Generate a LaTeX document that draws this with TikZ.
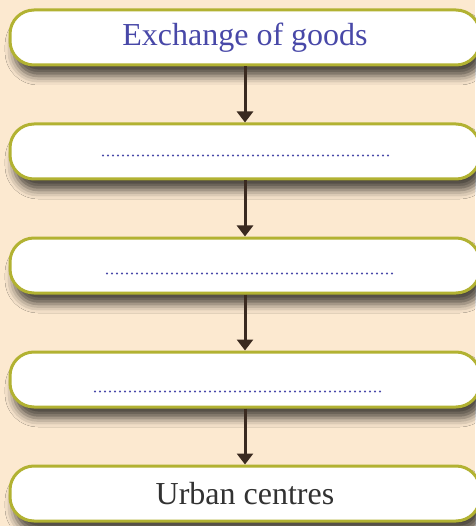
\documentclass[tikz,border=0pt]{standalone}
\usepackage{fontspec}
\setmainfont{Liberation Serif}
\usetikzlibrary{arrows.meta,shadows.blur}
\definecolor{peche}{RGB}{252,233,208}
\definecolor{olive}{RGB}{178,178,50}
\definecolor{bleu}{RGB}{72,72,168}
\definecolor{brun}{RGB}{58,42,32}
\definecolor{gris}{RGB}{50,50,50}
\begin{document}
\begin{tikzpicture}[
      node distance=114pt,
      etape/.style={
        draw=olive,
        line width=3pt,
        fill=white,
        rounded corners=24pt,
        minimum width=470pt,
        minimum height=55pt,
        font=\fontsize{32}{36}\selectfont,
        blur shadow={shadow xshift=4pt, shadow yshift=-11pt,
          shadow blur radius=9pt, shadow opacity=70}
      },
      fleche/.style={
        -{Triangle[width=16pt,length=11pt]},
        line width=3pt,
        draw=brun
      },
      pointille/.style={
        draw=bleu,
        line width=2.4pt,
        line cap=round,
        dash pattern=on 0pt off 5pt
      }
    ]
    \fill[peche] (0,0) rectangle (475pt,-526pt);
    \useasboundingbox (0,0) rectangle (475pt,-526pt);
    \node[etape, text=bleu] (b1) at (245pt,-37.5pt) {Exchange of goods} ;
    \node[etape, below of=b1] (b2) {} ;
    \node[etape, below of=b2] (b3) {} ;
    \node[etape, below of=b3] (b4) {} ;
    \node[etape, below of=b4, text=gris] (b5) {Urban centres} ;
    \node[coordinate,xshift=-142pt,yshift=-4pt] (b2l) at (b2.center) {};
    \node[coordinate,xshift=145pt,yshift=-4pt] (b2r) at (b2.center) {};
    \node[coordinate,xshift=-138pt,yshift=-8pt] (b3l) at (b3.center) {};
    \node[coordinate,xshift=150pt,yshift=-8pt] (b3r) at (b3.center) {};
    \node[coordinate,xshift=-150pt,yshift=-12pt] (b4l) at (b4.center) {};
    \node[coordinate,xshift=138pt,yshift=-12pt] (b4r) at (b4.center) {};
    \draw[pointille] (b2l) -- (b2r);
    \draw[pointille] (b3l) -- (b3r);
    \draw[pointille] (b4l) -- (b4r);
    \draw[fleche] (b1) -- (b2);
    \draw[fleche] (b2) -- (b3);
    \draw[fleche] (b3) -- (b4);
    \draw[fleche] (b4) -- (b5);
  \end{tikzpicture}
\end{document}
